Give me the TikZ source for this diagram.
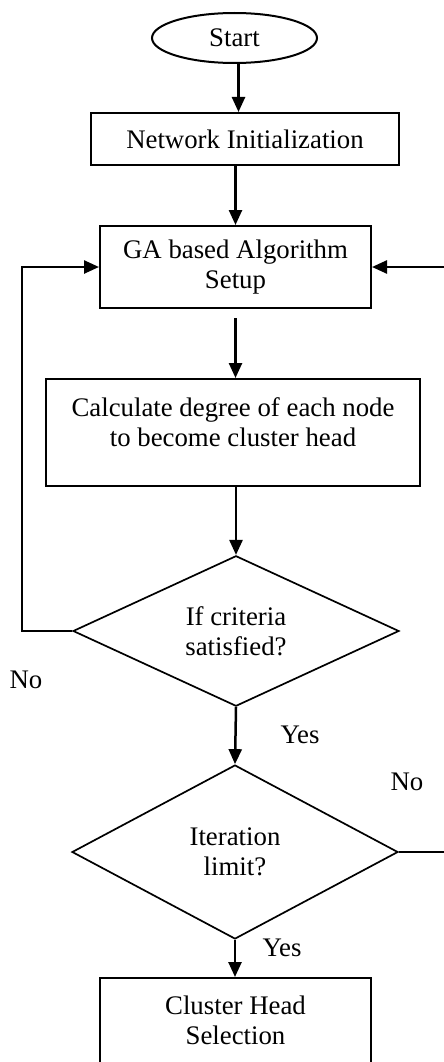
\documentclass[tikz,border=0pt]{standalone}
\usepackage{fontspec}
\setmainfont{Liberation Serif}
\usetikzlibrary{shapes.geometric,arrows.meta}
\begin{document}
\begin{tikzpicture}[x=1pt,y=-1pt,
  every node/.style={font=\fontsize{26.8}{30}\selectfont},
  box/.style={draw,line width=2pt,inner sep=0pt,align=center},
  dec/.style={draw,diamond,line width=1.7pt,inner sep=0pt,align=center},
  arr/.style={line width=2.5pt,-{Triangle[length=15pt,width=13pt]}},
  txt/.style={inner sep=0pt,align=center}]
\clip (0,0) rectangle (444,1062);
\fill[white] (0,0) rectangle (444,1062);
% nodes
\node[box,ellipse,minimum width=165pt,minimum height=50pt] (start) at (234.5,38) {Start};
\node[box,minimum width=308pt,minimum height=52pt] (net) at (245,139) {Network Initialization};
\node[box,minimum width=271pt,minimum height=82pt] (ga) at (235.5,267) {GA based Algorithm\\Setup};
\node[box,minimum width=374pt,minimum height=107pt] (calc) at (233,432.5) {};
\node[txt] (calctxt) at (233,422) {Calculate degree of each node\\to become cluster head};
\node[dec,minimum width=326pt,minimum height=148pt] (d1) at (236,631) {If criteria\\satisfied?};
\node[dec,minimum width=326pt,minimum height=174pt] (d2) at (235,852) {Iteration\\limit?};
\node[box,minimum width=271pt,minimum height=110pt] (cl) at (235.5,1033) {};
\node[txt] (cltxt) at (235.5,1020) {Cluster Head\\Selection};
% labels
\node[txt] (no1) at (26,680) {No};
\node[txt] (yes1) at (300,735) {Yes};
\node[txt] (no2) at (407,782) {No};
\node[txt] (yes2) at (282,948) {Yes};
% connectors
\draw[arr] ([xshift=4pt]start.south) -- ([xshift=4pt]start.south |- net.north);
\draw[arr] (net.south -| ga.north) -- (ga.north);
\draw[arr,shorten <=9pt] (ga.south) -- (ga.south |- calc.north);
\draw[arr] (calc.south -| d1.north) -- (d1.north);
\draw[arr] (d1.south) -- (d2.north);
\draw[arr] (d2.south) -- (d2.south |- cl.north);
\draw[arr] (d1.west) -- ++(-50,0) |- (ga.west);
\draw[arr] (d2.east) -- ++(60,0) |- (ga.east);
\end{tikzpicture}
\end{document}
